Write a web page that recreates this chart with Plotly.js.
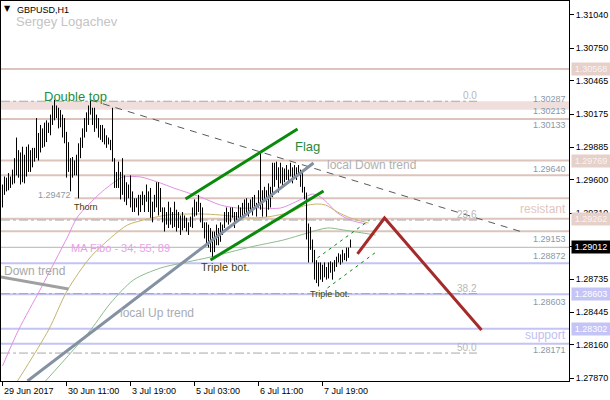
<!DOCTYPE html>
<html><head><meta charset="utf-8">
<script src="https://cdn.plot.ly/plotly-3.0.1.min.js"></script>
<style>html,body{margin:0;padding:0;background:#fff}#chart{width:610px;height:400px}</style>
</head><body><div id="chart"></div>
<script>
// ---- bars (GBPUSD H1), one per hour, index 0 = 29 Jun 2017 ----
const barHigh = [1.2956,1.2963,1.2962,1.2966,1.2963,1.2969,1.2979,1.2997,1.2986,1.2984,
1.2989,1.2982,1.2989,1.2991,1.2986,1.2988,1.2988,1.3014,1.3001,1.3008,
1.3005,1.3010,1.3012,1.3010,1.3017,1.3025,1.3030,1.3025,1.3023,1.3021,
1.3017,1.3014,1.3002,1.2993,1.2979,1.2980,1.2977,1.2982,1.2992,1.2997,
1.3005,1.3014,1.3019,1.3025,1.3030,1.3023,1.3023,1.3017,1.3014,1.3008,
1.3008,1.3005,1.2999,1.2997,1.2995,1.3023,1.2979,1.2967,1.2976,1.2967,
1.2979,1.2964,1.2958,1.2956,1.2964,1.2950,1.2944,1.2944,1.2947,1.2947,
1.2950,1.2947,1.2956,1.2950,1.2953,1.2941,1.2947,1.2958,1.2958,1.2953,
1.2936,1.2936,1.2932,1.2941,1.2936,1.2932,1.2941,1.2934,1.2932,1.2929,
1.2932,1.2929,1.2927,1.2923,1.2928,1.2936,1.2943,1.2941,1.2947,1.2940,
1.2936,1.2923,1.2923,1.2921,1.2918,1.2915,1.2915,1.2921,1.2918,1.2923,
1.2921,1.2932,1.2936,1.2932,1.2936,1.2936,1.2932,1.2932,1.2938,1.2936,
1.2940,1.2943,1.2944,1.2940,1.2943,1.2945,1.2947,1.2940,1.2951,1.2984,
1.2951,1.2954,1.2951,1.2957,1.2954,1.2975,1.2975,1.2976,1.2971,1.2975,
1.2971,1.2970,1.2973,1.2969,1.2975,1.2971,1.2973,1.2971,1.2973,1.2969,
1.2966,1.2954,1.2949,1.2922,1.2919,1.2908,1.2899,1.2890,1.2888,1.2888,
1.2886,1.2888,1.2884,1.2888,1.2889,1.2888,1.2890,1.2893,1.2896,1.2895,
1.2899,1.2896,1.2901,1.2901,1.2908];
const barLow = [1.2936,1.2947,1.2950,1.2951,1.2953,1.2956,1.2957,1.2964,1.2962,1.2956,
1.2958,1.2957,1.2963,1.2967,1.2967,1.2971,1.2976,1.2979,1.2977,1.2984,
1.2988,1.2989,1.2993,1.3001,1.2999,1.3008,1.3012,1.3014,1.3005,1.3006,
1.2997,1.2992,1.2962,1.2967,1.2950,1.2962,1.2964,1.2964,1.2944,1.2979,
1.2988,1.2997,1.3002,1.3008,1.3017,1.3008,1.3002,1.3005,1.2997,1.2995,
1.2993,1.2991,1.2988,1.2991,1.2986,1.2976,1.2953,1.2953,1.2953,1.2943,
1.2947,1.2941,1.2938,1.2944,1.2936,1.2932,1.2932,1.2936,1.2929,1.2932,
1.2938,1.2932,1.2941,1.2932,1.2927,1.2923,1.2932,1.2936,1.2929,1.2932,
1.2923,1.2915,1.2921,1.2918,1.2921,1.2918,1.2919,1.2915,1.2918,1.2912,
1.2916,1.2918,1.2915,1.2912,1.2919,1.2918,1.2928,1.2929,1.2932,1.2923,
1.2918,1.2909,1.2903,1.2901,1.2897,1.2893,1.2897,1.2903,1.2903,1.2906,
1.2912,1.2918,1.2923,1.2921,1.2923,1.2927,1.2918,1.2923,1.2927,1.2925,
1.2927,1.2928,1.2931,1.2928,1.2932,1.2929,1.2936,1.2928,1.2936,1.2934,
1.2928,1.2943,1.2928,1.2934,1.2936,1.2945,1.2954,1.2960,1.2949,1.2957,
1.2954,1.2958,1.2960,1.2957,1.2963,1.2957,1.2962,1.2960,1.2964,1.2954,
1.2949,1.2943,1.2908,1.2888,1.2899,1.2888,1.2873,1.2870,1.2867,1.2873,
1.2871,1.2875,1.2873,1.2874,1.2879,1.2873,1.2880,1.2884,1.2888,1.2886,
1.2888,1.2890,1.2889,1.2892,1.2901];

// ---- axis ticks ----
const xTickIdx = [0,32,64,96,128,160];
const xTickText = ['29 Jun 2017','30 Jun 11:00','3 Jul 19:00','5 Jul 03:00','6 Jul 11:00','7 Jul 19:00'];
const yTickVals = [1.31040,1.30750,1.30465,1.30175,1.29885,1.29600,1.29310,1.29020,1.28735,1.28445,1.28160,1.27870];

// ---- moving averages (MA Fibo 34; 55; 89) ----
const maPinkX = [0,8,19,32.5,37.5,49,57.5,60.5,69,79,85.5,99,109,117.5,127.5,139,146.5,151.5,155,159,162.5,167.5,174,182];
const maPinkY = [1.27976,1.28290,1.28648,1.29102,1.29277,1.29486,1.29600,1.29626,1.29626,1.29573,1.29530,1.29451,1.29381,1.29355,1.29355,1.29355,1.29408,1.29451,1.29477,1.29451,1.29399,1.29312,1.29250,1.29215];
const maOliveX = [7.5,23,32.5,44,54,62.5,70.5,82.5,99,109,124,132.5,144,150.5,157.5,161.5,167.5,174,183];
const maOliveY = [1.27845,1.28290,1.28639,1.28927,1.29093,1.29207,1.29250,1.29294,1.29303,1.29294,1.29268,1.29277,1.29320,1.29373,1.29390,1.29381,1.29320,1.29268,1.29224];
const maGreenX = [21.5,44,54,65.5,79,92.5,104,124,140.5,152.5,162.5,170.5,186.5];
const maGreenY = [1.27845,1.28290,1.28525,1.28727,1.28831,1.28884,1.28927,1.29015,1.29076,1.29137,1.29181,1.29163,1.29119];

// ---- drawn trend lines (bar index, price) ----
const downTrendX = [-1,33],        downTrendY = [1.28753,1.28648];
const localDownX = [44,261.5],     localDownY = [1.30298,1.29137];
const localUpX = [12.5,155.5],     localUpY = [1.27845,1.29748];
const flagUpperX = [91.5,147.5],   flagUpperY = [1.29434,1.30045];
const flagLowerX = [104,160.5],    flagLowerY = [1.28901,1.29504];
const chanUpperX = [157.5,183.5],  chanUpperY = [1.28919,1.29250];
const chanLowerX = [162.5,187.5],  chanLowerY = [1.28657,1.28980];
const forecastX = [177.5,191,239.5], forecastY = [1.28954,1.29268,1.28290];

// ---- horizontal levels ----
const pinkLevels = [1.30568,1.30133,1.29769,1.29640,1.29262,1.29153];
const pinkBand = [1.30213,1.30287];
const thornLevel = 1.29440, thornStartIdx = 36;
const lavenderLevels = [1.28872,1.28603,1.28302,1.28171];
const currentPrice = 1.29012;
const fibLevels = [1.30287,1.29250,1.28608,1.28089];
const fibNames = ['0.0','23.6','38.2','50.0'];
const pinkBoxLabels = [1.30568,1.29769,1.29262];
const lavBoxLabels = [1.28603,1.28302];

// ---------------------------------------------------------------
const FONT = 'Liberation Sans, Arial, sans-serif';
const X = px => (px - 1) / 568;      // page pixel -> paper (text placement only)
const Y = py => (381 - py) / 380;

const bx = [], by = [];
barHigh.forEach((h, i) => { bx.push(i, i, null); by.push(barLow[i], h, null); });

const line = (x, y, color, width, dash, shape) => ({
  type: 'scatter', mode: 'lines', x, y, hoverinfo: 'skip',
  line: { color, width, dash: dash || 'solid', shape: shape || 'linear', smoothing: 0.8 }
});

const traces = [
  line(maPinkX, maPinkY, '#e290e2', 1, null, 'spline'),
  line(maOliveX, maOliveY, '#c6b46c', 1, null, 'spline'),
  line(maGreenX, maGreenY, '#8cbc8c', 1, null, 'spline'),
  line(bx, by, '#000000', 1),
  line(downTrendX, downTrendY, '#a0a0a0', 3),
  line(localDownX, localDownY, '#5a5a5a', 1, '7px,6px'),
  line(localUpX, localUpY, '#8391a2', 3),
  line(flagUpperX, flagUpperY, '#0a8a0a', 3),
  line(flagLowerX, flagLowerY, '#0a8a0a', 3),
  line(chanUpperX, chanUpperY, '#0a8a0a', 1, '3px,4px'),
  line(chanLowerX, chanLowerY, '#0a8a0a', 1, '3px,4px'),
  line(forecastX, forecastY, '#a52a2a', 3)
];

const shapes = [];
shapes.push({type:'rect', xref:'paper', x0:0, x1:1, yref:'y', y0:pinkBand[0], y1:pinkBand[1], fillcolor:'#efdedb', line:{width:0}, layer:'below'});
pinkLevels.forEach(v => shapes.push({type:'line', xref:'paper', x0:0, x1:1, yref:'y', y0:v, y1:v, line:{color:'#dcc4bd', width:2}, layer:'below'}));
shapes.push({type:'line', xref:'x', x0:thornStartIdx, x1:300, yref:'y', y0:thornLevel, y1:thornLevel, line:{color:'#dcc4bd', width:2}, layer:'below'});
lavenderLevels.forEach(v => shapes.push({type:'line', xref:'paper', x0:0, x1:1, yref:'y', y0:v, y1:v, line:{color:'#c4c4f4', width:2}, layer:'below'}));
shapes.push({type:'line', xref:'paper', x0:0, x1:1, yref:'y', y0:currentPrice, y1:currentPrice, line:{color:'#b4b4b4', width:1}, layer:'below'});
fibLevels.forEach(v => shapes.push({type:'line', xref:'paper', x0:0, x1:X(477), yref:'y', y0:v, y1:v, line:{color:'#a8a8a8', width:1, dash:'dashdot'}, layer:'below'}));

const ann = [];
const txt = (text, px, py, size, color, anchor, family) => ann.push({
  text, xref:'paper', yref:'paper', x:X(px), y:Y(py), xanchor:anchor || 'left', yanchor:'middle',
  showarrow:false, font:{family: family || FONT, size, color}, borderpad:0
});
txt('▼', 8, 9, 8, '#000', 'center', 'DejaVu Sans');
txt('GBPUSD,H1', 16, 10, 9, '#000');
txt('Sergey Logachev', 15, 21, 13, '#c4c4c4');
txt('Double top', 43, 96, 13, '#1e8c3c');
txt('Flag', 294, 146, 13, '#1e8c3c');
txt('Thorn', 73, 207, 9, '#3c3c08');
txt('1.29472', 72, 195, 9, '#8a98a8', 'right');
txt('local Down trend', 326, 165, 12, '#b0b0b0');
txt('MA Fibo - 34; 55; 89', 70, 248, 11, '#e6a2e6');
txt('Down trend', 3, 271, 12, '#a8a8a8');
txt('local Up trend', 119, 313, 12, '#a6acb6');
txt('Triple bot.', 200, 267, 11, '#3c4808');
txt('Triple bot.', 309, 294, 9, '#3c4808');
txt('resistant', 567, 209, 12, '#e2c6be', 'right');
txt('support', 567, 335, 12, '#c0c0f0', 'right');
[[95,0],[214,1],[288,2],[347,3]].forEach(([py,k]) => txt(fibNames[k], 478, py, 10, '#b8b8b8', 'right'));
[['1.30287',99],['1.30213',111],['1.30133',125],['1.29640',169],['1.29153',239],['1.28872',256],['1.28603',302],['1.28171',350]]
  .forEach(([t,py]) => txt(t, 567, py, 9, '#8a98a8', 'right'));

xTickIdx.forEach((xi, k) => ann.push({
  text: xTickText[k], xref:'x', yref:'paper', x: xi, y: 0, xanchor:'left', yanchor:'top', yshift:-4,
  showarrow:false, font:{family:FONT, size:9, color:'#000'}, borderpad:0
}));
const box = (v, bg, fg) => ann.push({
  text: v.toFixed(5), xref:'paper', yref:'y', x:1, y:v, xanchor:'left', yanchor:'middle', xshift:2,
  showarrow:false, bgcolor:bg, width:38, height:12, borderpad:0,
  font:{family:FONT, size:9, color:fg}
});
pinkBoxLabels.forEach(v => box(v, '#e6d0ca', '#fbf3f1'));
box(currentPrice, '#000000', '#ffffff');
lavBoxLabels.forEach(v => box(v, '#c4c4f6', '#ffffff'));

const layout = {
  width:610, height:400,
  margin:{l:1, r:41, t:1, b:19, pad:0},
  paper_bgcolor:'#ffffff', plot_bgcolor:'#ffffff',
  showlegend:false,
  font:{family:FONT, size:9, color:'#000'},
  xaxis:{range:[-0.75,283.25], showgrid:false, zeroline:false, showline:true, linecolor:'#000', linewidth:1,
         mirror:true, ticks:'outside', ticklen:4, tickcolor:'#000', tickvals:xTickIdx, showticklabels:false, fixedrange:true},
  yaxis:{range:[1.27845,1.31162], side:'right', showgrid:false, zeroline:false, showline:true, linecolor:'#000', linewidth:1,
         mirror:true, ticks:'outside', ticklen:4, tickcolor:'#000', tickvals:yTickVals,
         ticktext:yTickVals.map(v => v.toFixed(5)), tickfont:{family:FONT, size:9, color:'#000'}, fixedrange:true},
  shapes, annotations: ann
};
Plotly.newPlot('chart', traces, layout, {staticPlot:true, displayModeBar:false});
</script>
</body></html>
